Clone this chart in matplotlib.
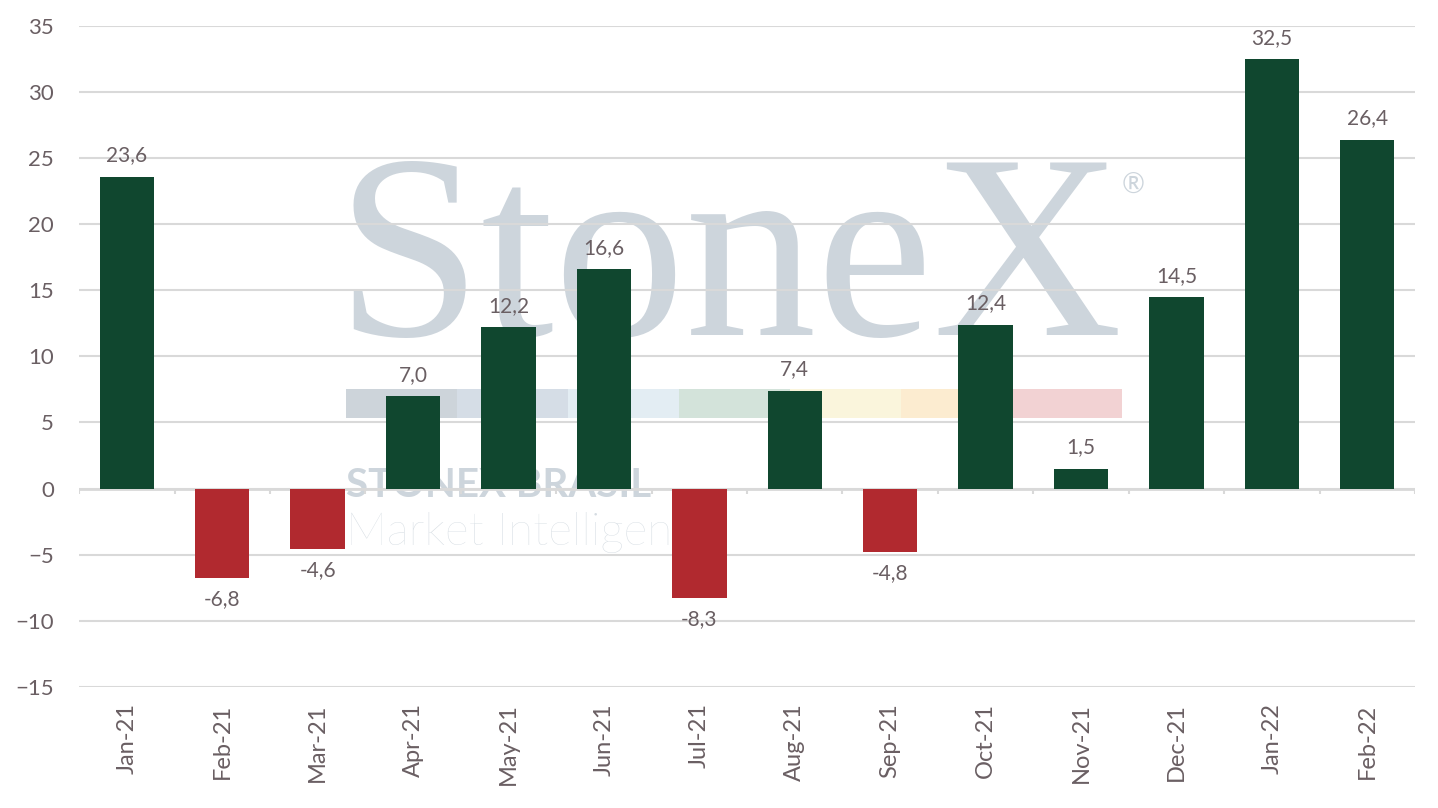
import matplotlib.pyplot as plt
from matplotlib.patches import Rectangle

plt.rcParams['font.family'] = ['Lato', 'DejaVu Sans']

months = ['Jan-21', 'Feb-21', 'Mar-21', 'Apr-21', 'May-21', 'Jun-21', 'Jul-21',
          'Aug-21', 'Sep-21', 'Oct-21', 'Nov-21', 'Dec-21', 'Jan-22', 'Feb-22']
values = [23.6, -6.8, -4.6, 7.0, 12.2, 16.6, -8.3,
          7.4, -4.8, 12.4, 1.5, 14.5, 32.5, 26.4]

green = '#10472f'
red = '#b1292f'
txt = '#6a5f63'
grid = '#d9d9d9'

fig = plt.figure(figsize=(14.38, 8.08), dpi=100)
ax = fig.add_axes([0.055, 0.150, 0.929, 0.818])

# faint logo watermark behind the bars
wm = '#cdd5dc'
ax.text(0.487, 0.533, 'StoneX', transform=ax.transAxes, ha='center', va='baseline',
        fontsize=189, family='Liberation Serif', color=wm, zorder=0)
ax.text(0.789, 0.758, '®', transform=ax.transAxes, ha='center', va='center',
        fontsize=20, color=wm, zorder=0)
band = ['#cdd4da', '#d5dde6', '#e3edf3', '#d3e3da', '#faf5dc', '#fcecd0', '#f2d2d3']
bx0, bx1 = 0.200, 0.781
seg = (bx1 - bx0) / len(band)
for i, c in enumerate(band):
    ax.add_patch(Rectangle((bx0 + i * seg, 0.406), seg, 0.045, transform=ax.transAxes,
                           color=c, lw=0, zorder=0))
ax.text(0.200, 0.287, 'STONEX BRASIL', transform=ax.transAxes, ha='left', va='baseline',
        fontsize=29, weight='bold', color=wm, zorder=0)
ax.text(0.200, 0.215, 'Market Intelligen', transform=ax.transAxes, ha='left', va='baseline',
        fontsize=33, weight='light', color='#d5dce2', zorder=0)

x = list(range(len(months)))
colors = [green if v >= 0 else red for v in values]
ax.bar(x, values, width=0.57, color=colors, zorder=3)

for xi, v in zip(x, values):
    lab = f'{v:.1f}'.replace('.', ',')
    if v >= 0:
        ax.annotate(lab, (xi, v), xytext=(0, 8), textcoords='offset points',
                    ha='center', va='bottom', fontsize=15, color=txt, zorder=4)
    else:
        ax.annotate(lab, (xi, v), xytext=(0, -8), textcoords='offset points',
                    ha='center', va='top', fontsize=15, color=txt, zorder=4)

ax.set_xlim(-0.5, len(months) - 0.5)
ax.set_ylim(-15, 35)
ax.set_yticks(range(-15, 40, 5))
ax.yaxis.grid(True, color=grid, lw=1.5, zorder=1)
ax.set_axisbelow(True)
ax.axhline(0, color=grid, lw=2, zorder=2)
ax.vlines([i - 0.5 for i in range(len(months) + 1)], -0.45, 0, color=grid, lw=1.5, zorder=2)

for s in ax.spines.values():
    s.set_visible(False)
ax.set_xticks(x)
ax.set_xticklabels(months, rotation=90)
ax.tick_params(axis='x', length=0, pad=12, labelsize=17, colors=txt)
ax.tick_params(axis='y', length=0, pad=18, labelsize=16, colors=txt)
ax.set_facecolor('none')
fig.patch.set_facecolor('white')

plt.savefig('out.png', dpi=100)
plt.close()
